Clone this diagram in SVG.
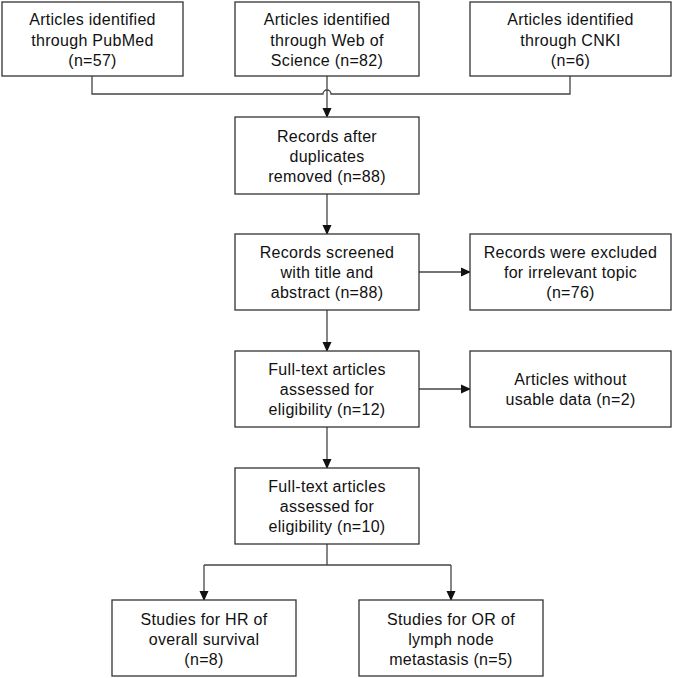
<svg xmlns="http://www.w3.org/2000/svg" width="673" height="678" viewBox="0 0 673 678">
<style>
.box{fill:#fff;stroke:#333;stroke-width:1.3}
.t{font-family:"Liberation Sans",Arial,sans-serif;font-size:16px;letter-spacing:0.3px;fill:#111;text-anchor:middle}
.c{fill:none;stroke:#444;stroke-width:1.3}
</style>
<defs>
<marker id="ah" markerWidth="10" markerHeight="10" refX="9" refY="5" orient="auto" markerUnits="userSpaceOnUse">
<path d="M0,0.5 L10,5 L0,9.5 Z" fill="#111"/>
</marker>
</defs>
<rect width="673" height="678" fill="#fff"/>
<g id="connectors">
<path class="c" d="M92,76 V94 H323 A4,4 0 0 1 331,94 H570 V76"/>
<path class="c" d="M327,76 V117" marker-end="url(#ah)"/>
<path class="c" d="M327,194 V234" marker-end="url(#ah)"/>
<path class="c" d="M419,272 H470" marker-end="url(#ah)"/>
<path class="c" d="M327,310 V351" marker-end="url(#ah)"/>
<path class="c" d="M419,389 H470" marker-end="url(#ah)"/>
<path class="c" d="M327,427 V468" marker-end="url(#ah)"/>
<path class="c" d="M327,544 V565"/>
<path class="c" d="M204,565 H451"/>
<path class="c" d="M204,565 V600" marker-end="url(#ah)"/>
<path class="c" d="M451,565 V600" marker-end="url(#ah)"/>
</g>
<g id="pubmed">
<rect class="box" x="2" y="2" width="181" height="74"/>
<text class="t"><tspan x="92.5" y="25">Articles identified</tspan><tspan x="92.5" y="45.5">through PubMed</tspan><tspan x="92.5" y="65.5">(n=57)</tspan></text>
</g>
<g id="wos">
<rect class="box" x="235" y="2" width="184" height="74"/>
<text class="t"><tspan x="327" y="25">Articles identified</tspan><tspan x="327" y="45.5">through Web of</tspan><tspan x="327" y="65.5">Science (n=82)</tspan></text>
</g>
<g id="cnki">
<rect class="box" x="470" y="2" width="201" height="74"/>
<text class="t"><tspan x="570.5" y="25">Articles identified</tspan><tspan x="570.5" y="45.5">through CNKI</tspan><tspan x="570.5" y="65.5">(n=6)</tspan></text>
</g>
<g id="dedup">
<rect class="box" x="235" y="117" width="184" height="77"/>
<text class="t"><tspan x="327" y="142">Records after</tspan><tspan x="327" y="162">duplicates</tspan><tspan x="327" y="182">removed (n=88)</tspan></text>
</g>
<g id="screened">
<rect class="box" x="235" y="234" width="184" height="76"/>
<text class="t"><tspan x="327" y="258">Records screened</tspan><tspan x="327" y="278">with title and</tspan><tspan x="327" y="298">abstract (n=88)</tspan></text>
</g>
<g id="excluded">
<rect class="box" x="470" y="234" width="201" height="76"/>
<text class="t"><tspan x="570.5" y="258">Records were excluded</tspan><tspan x="570.5" y="278">for irrelevant topic</tspan><tspan x="570.5" y="298">(n=76)</tspan></text>
</g>
<g id="fulltext12">
<rect class="box" x="235" y="351" width="184" height="76"/>
<text class="t"><tspan x="327" y="375">Full-text articles</tspan><tspan x="327" y="395">assessed for</tspan><tspan x="327" y="415">eligibility (n=12)</tspan></text>
</g>
<g id="nodata">
<rect class="box" x="470" y="351" width="201" height="76"/>
<text class="t"><tspan x="570.5" y="385">Articles without</tspan><tspan x="570.5" y="405">usable data (n=2)</tspan></text>
</g>
<g id="fulltext10">
<rect class="box" x="235" y="468" width="184" height="76"/>
<text class="t"><tspan x="327" y="492">Full-text articles</tspan><tspan x="327" y="512">assessed for</tspan><tspan x="327" y="532">eligibility (n=10)</tspan></text>
</g>
<g id="hr">
<rect class="box" x="112" y="600" width="184" height="76"/>
<text class="t"><tspan x="204" y="625">Studies for HR of</tspan><tspan x="204" y="645">overall survival</tspan><tspan x="204" y="665">(n=8)</tspan></text>
</g>
<g id="or">
<rect class="box" x="359" y="600" width="184" height="76"/>
<text class="t"><tspan x="451" y="625">Studies for OR of</tspan><tspan x="451" y="645">lymph node</tspan><tspan x="451" y="665">metastasis (n=5)</tspan></text>
</g>
</svg>
